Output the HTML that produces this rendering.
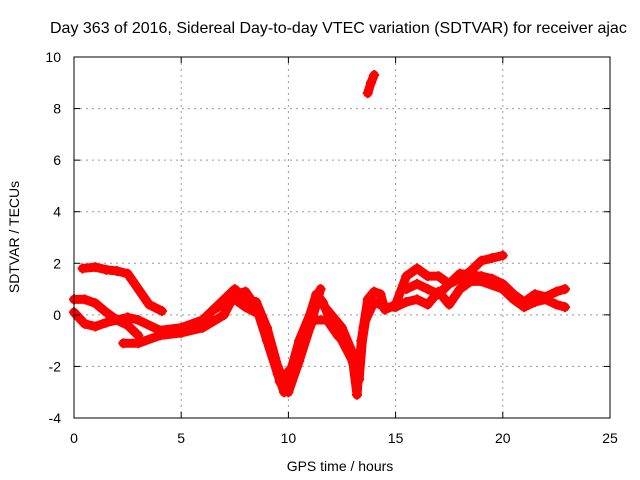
<!DOCTYPE html>
<html><head><meta charset="utf-8"><style>
body{margin:0;background:#fff;}
svg{display:block;font-family:"Liberation Sans",sans-serif;}
</style></head><body>
<svg width="640" height="480">
<text x="50" y="33" font-size="16" text-anchor="start">Day 363 of 2016, Sidereal Day-to-day VTEC variation (SDTVAR) for receiver ajac</text>
<g id="grid"></g>
<g id="series"></g>
<rect x="74" y="57" width="536" height="361" fill="none" stroke="#000" stroke-width="1"/>
<g id="ticks"></g>
<text x="340" y="471" font-size="14" text-anchor="middle">GPS time / hours</text>
<text transform="translate(19,237) rotate(-90)" font-size="14" text-anchor="middle">SDTVAR / TECUs</text>
</svg>
<script>
const xTicks=[0,5,10,15,20,25];
const yTicks=[-4,-2,0,2,4,6,8,10];
const traceA=[[0.4,1.8],[1,1.85],[1.5,1.75],[2,1.7],[2.5,1.6],[3,1.0],[3.5,0.4],[4.1,0.15]];
const traceB=[[0,0.6],[0.5,0.6],[1,0.45],[1.5,0.1],[2,-0.2],[2.5,-0.4],[3,-0.8]];
const traceC=[[0,0.1],[0.5,-0.35],[1,-0.45],[1.5,-0.3],[2,-0.2],[2.5,-0.1],[3,-0.2],[4,-0.6],[5,-0.5],[6,-0.2],[7,0.6],[7.5,1.0],[8,0.6],[8.5,0.5],[9,-0.5],[9.5,-2.0],[10,-3.0],[10.5,-1.8],[11,-0.5],[11.5,1.0]];
const traceD=[[2.3,-1.1],[3,-1.1],[4,-0.8],[5,-0.7],[6,-0.5],[7,0],[7.5,0.8],[8,0.9],[8.5,0.3],[9,-1],[9.5,-2.3],[9.8,-3],[10,-2.5],[10.5,-1],[11,0],[11.3,0.8],[11.6,0.5],[12,-0.3],[12.5,-1],[13,-1.8],[13.2,-3.1],[13.4,-1],[13.7,0.6],[14,0.9],[14.3,0.8],[14.5,0.2],[15,0.4],[15.5,1.5],[16,1.8],[16.5,1.5],[17,1.5],[17.5,1.2],[18,1.4],[18.5,1.7],[19,2.1],[19.5,2.2],[20,2.3]];
const traceE=[[11.5,0.5],[12,0],[12.5,-0.5],[13,-1.5],[13.3,-2.5],[13.5,-0.5],[13.8,0.6],[14.5,0.3],[15,0.3],[15.5,0.5],[16,0.6],[16.5,0.4],[17,0.9],[17.5,0.4],[18,1],[18.5,1.3],[19,1.3],[20,1.0],[20.5,0.6],[21,0.3],[21.5,0.5],[22,0.6],[22.5,0.4],[22.9,0.3]];
const traceF=[[15.5,1.0],[16,1.2],[16.5,1.0],[17,0.8],[17.5,1.2],[18,1.6],[19,1.5],[19.5,1.4],[20,1.2],[20.5,0.8],[21,0.5],[21.5,0.8],[22,0.7],[22.5,0.9],[22.9,1.0]];
const traceG=[[13.7,8.6],[13.85,9.0],[14.0,9.3]];
const traceH=[[6.5,0.2],[7,0.4],[7.5,0.6],[8,0.3],[8.7,0.0],[9.2,-1.2],[9.6,-2.6],[10.2,-2.0],[10.7,-0.8],[11.2,-0.2],[11.8,-0.2],[12.3,-0.8],[12.8,-1.2],[13.1,-2.2],[13.3,-1.8],[13.6,-0.2],[14,0.5]];
const traces=[traceA,traceB,traceC,traceD,traceE,traceF,traceG,traceH];
const NS="http://www.w3.org/2000/svg";
const X0=74,X1=610,Y0=418,Y1=57;
const sx=t=>X0+(t-0)/25*(X1-X0);
const sy=v=>Y0-(v+4)/14*(Y0-Y1);
const grid=document.getElementById('grid'),ticks=document.getElementById('ticks'),ser=document.getElementById('series');
function mk(tag,at,parent){const e=document.createElementNS(NS,tag);for(const k in at)e.setAttribute(k,at[k]);parent.appendChild(e);return e;}
xTicks.forEach(t=>{const x=sx(t);
 if(t>0&&t<25){const g=mk('line',{x1:x,x2:x,y1:Y1,y2:Y0,stroke:'#999','stroke-dasharray':'2,4'},grid);
 
 }
 const l=mk('text',{x:x,y:Y0+25,'font-size':14,'text-anchor':'middle'},ticks);l.textContent=t;
 
 
 mk('line',{x1:x,x2:x,y1:Y0,y2:Y0-6,stroke:'#000'},ticks);mk('line',{x1:x,x2:x,y1:Y1,y2:Y1+6,stroke:'#000'},ticks);});
yTicks.forEach(v=>{const y=sy(v);
 if(v>-4&&v<10){const g=mk('line',{x1:X0,x2:X1,y1:y,y2:y,stroke:'#999','stroke-dasharray':'2,4'},grid);
 
 }
 const l=mk('text',{x:X0-13,y:y+5,'font-size':14,'text-anchor':'end'},ticks);l.textContent=v;
 
 
 mk('line',{x1:X0,x2:X0+6,y1:y,y2:y,stroke:'#000'},ticks);mk('line',{x1:X1,x2:X1-6,y1:y,y2:y,stroke:'#000'},ticks);});
traces.forEach((tr,i)=>{
 const p=mk('polyline',{points:tr.map(d=>sx(d[0])+','+sy(d[1])).join(' '),fill:'none',stroke:'#ff0000','stroke-width':9,'stroke-linejoin':'round','stroke-linecap':'round'},ser);
 
 
 tr.forEach(d=>{const x=sx(d[0]),y=sy(d[1]);
  const m=mk('path',{d:`M${x-5},${y}H${x+5}M${x},${y-5}V${y+5}`,stroke:'#ff0000','stroke-width':2},ser);
  
  });
});
</script>
</body></html>
